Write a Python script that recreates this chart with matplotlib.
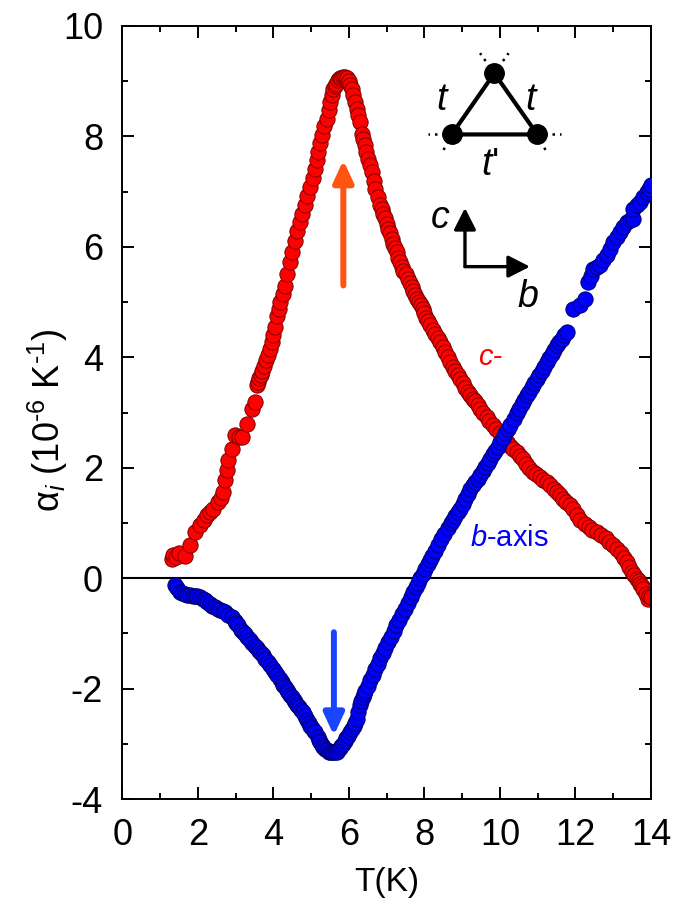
import matplotlib
matplotlib.use("Agg")
import matplotlib.pyplot as plt
from matplotlib.ticker import MultipleLocator

plt.rcParams.update({
    "font.family": ["Liberation Sans", "DejaVu Sans"],
    "mathtext.fontset": "custom",
    "mathtext.rm": "Liberation Sans",
    "mathtext.it": "Liberation Sans:italic",
    "mathtext.bf": "Liberation Sans:bold",
    "axes.unicode_minus": False,
})

# c-axis thermal expansion (red)
T_c = [1.30, 1.35, 1.42, 1.50, 1.66, 1.79, 1.92, 2.05, 2.15, 2.23, 2.32, 2.40,
       2.53, 2.60, 2.67, 2.72, 2.76, 2.80, 2.89, 2.98, 3.08, 3.16, 3.29, 3.42,
       3.50, 3.55, 3.58, 3.62, 3.66, 3.70, 3.75, 3.80, 3.85, 3.90, 3.95, 4.00,
       4.05, 4.10, 4.14, 4.18, 4.24, 4.30, 4.37, 4.44, 4.50, 4.57, 4.63, 4.70,
       4.76, 4.83, 4.90, 4.97, 5.04, 5.10, 5.14, 5.18, 5.23, 5.28, 5.35, 5.41,
       5.46, 5.51, 5.54, 5.58, 5.62, 5.66, 5.70, 5.75, 5.80, 5.85, 5.90, 5.95,
       5.99, 6.03, 6.07, 6.11, 6.15, 6.20, 6.25, 6.29, 6.34, 6.38, 6.42, 6.46,
       6.51, 6.55, 6.60, 6.65, 6.70, 6.76, 6.82, 6.87, 6.91, 6.95, 7.00, 7.04,
       7.09, 7.13, 7.17, 7.22, 7.26, 7.30, 7.35, 7.40, 7.44, 7.50, 7.57, 7.62,
       7.66, 7.70, 7.75, 7.80, 7.85, 7.90, 7.96, 8.00, 8.05, 8.10, 8.15, 8.22,
       8.28, 8.35, 8.41, 8.48, 8.55, 8.62, 8.68, 8.75, 8.82, 8.88, 8.95, 9.02,
       9.08, 9.15, 9.21, 9.28, 9.35, 9.42, 9.48, 9.56, 9.65, 9.72, 9.81, 9.90,
       10.00, 10.09, 10.18, 10.26, 10.35, 10.44, 10.53, 10.62, 10.70, 10.78,
       10.87, 10.96, 11.05, 11.15, 11.24, 11.33, 11.42, 11.50, 11.59, 11.68,
       11.76, 11.85, 11.94, 12.03, 12.12, 12.24, 12.35, 12.45, 12.56, 12.68,
       12.80, 12.90, 13.00, 13.10, 13.20, 13.28, 13.36, 13.43, 13.50, 13.56,
       13.62, 13.67, 13.72, 13.76, 13.80, 13.86, 13.92, 13.96, 14.00]
alpha_c = [0.35, 0.42, 0.38, 0.45, 0.41, 0.60, 0.83, 0.96, 1.05, 1.14, 1.20, 1.25,
           1.38, 1.45, 1.56, 1.78, 1.96, 2.14, 2.34, 2.59, 2.55, 2.55, 2.80, 3.07,
           3.19, 3.50, 3.56, 3.62, 3.68, 3.75, 3.85, 3.95, 4.05, 4.15, 4.28, 4.40,
           4.55, 4.75, 4.88, 5.00, 5.15, 5.30, 5.50, 5.72, 5.90, 6.10, 6.28, 6.45,
           6.60, 6.75, 6.92, 7.08, 7.25, 7.41, 7.58, 7.72, 7.88, 8.02, 8.18, 8.32,
           8.48, 8.62, 8.75, 8.86, 8.92, 8.95, 9.02, 9.05, 9.06, 9.07, 9.07, 9.05,
           9.00, 8.93, 8.85, 8.75, 8.62, 8.50, 8.38, 8.26, 8.05, 7.95, 7.84, 7.72,
           7.60, 7.48, 7.36, 7.20, 7.05, 6.90, 6.76, 6.68, 6.60, 6.52, 6.42, 6.33,
           6.25, 6.15, 6.05, 5.98, 5.90, 5.80, 5.72, 5.64, 5.56, 5.50, 5.42, 5.35,
           5.28, 5.20, 5.12, 5.06, 5.00, 4.94, 4.88, 4.80, 4.72, 4.65, 4.58, 4.50,
           4.43, 4.35, 4.28, 4.19, 4.10, 4.00, 3.91, 3.83, 3.75, 3.68, 3.61, 3.53,
           3.45, 3.38, 3.31, 3.25, 3.20, 3.13, 3.07, 3.00, 2.92, 2.85, 2.77, 2.70,
           2.62, 2.54, 2.46, 2.40, 2.33, 2.28, 2.22, 2.15, 2.07, 2.00,
           1.92, 1.88, 1.83, 1.78, 1.74, 1.68, 1.62, 1.56, 1.50, 1.44,
           1.38, 1.33, 1.25, 1.15, 1.05, 0.98, 0.92, 0.88, 0.83, 0.78,
           0.72, 0.66, 0.60, 0.53, 0.45, 0.37, 0.29, 0.20, 0.12, 0.05,
           -0.01, -0.05, -0.10, -0.15, -0.19, -0.28, -0.37, -0.33, -0.35]

# b-axis thermal expansion (blue)
T_b = [1.39, 1.45, 1.52, 1.58, 1.65, 1.72, 1.79, 1.86, 1.92, 1.98, 2.05, 2.12,
       2.18, 2.25, 2.32, 2.38, 2.45, 2.52, 2.58, 2.65, 2.72, 2.80, 2.89, 2.98,
       3.02, 3.06, 3.15, 3.20, 3.24, 3.30, 3.38, 3.44, 3.51, 3.56, 3.62, 3.67,
       3.72, 3.78, 3.85, 3.92, 3.99, 4.05, 4.10, 4.16, 4.22, 4.26, 4.30, 4.35,
       4.39, 4.44, 4.48, 4.53, 4.57, 4.62, 4.68, 4.73, 4.78, 4.83, 4.88, 4.93,
       4.97, 5.03, 5.07, 5.10, 5.17, 5.20, 5.23, 5.28, 5.32, 5.37, 5.41, 5.46,
       5.50, 5.54, 5.58, 5.62, 5.67, 5.71, 5.75, 5.80, 5.84, 5.89, 5.93, 5.98,
       6.03, 6.08, 6.12, 6.16, 6.20, 6.25, 6.29, 6.33, 6.36, 6.40, 6.43, 6.50,
       6.56, 6.63, 6.70, 6.77, 6.83, 6.90, 6.96, 7.03, 7.10, 7.18, 7.25, 7.33,
       7.40, 7.48, 7.55, 7.63, 7.70, 7.77, 7.83, 7.89, 7.95, 8.02, 8.08, 8.14,
       8.20, 8.28, 8.36, 8.44, 8.52, 8.61, 8.70, 8.76, 8.82, 8.88, 8.94, 9.01,
       9.08, 9.15, 9.21, 9.28, 9.35, 9.42, 9.48, 9.55, 9.61, 9.68, 9.74, 9.81,
       9.87, 9.94, 10.00, 10.07, 10.14, 10.20, 10.27, 10.36, 10.44, 10.50,
       10.57, 10.64, 10.71, 10.78, 10.84, 10.90, 10.97, 11.04, 11.10, 11.17,
       11.24, 11.30, 11.37, 11.44, 11.50, 11.57, 11.64, 11.70, 11.77, 11.94,
       12.12, 12.25, 12.33, 12.40, 12.47, 12.56, 12.65, 12.74, 12.83, 12.92,
       13.00, 13.09, 13.18, 13.27, 13.36, 13.44, 13.53, 13.53, 13.62, 13.71,
       13.80, 13.89, 13.95, 14.00]
alpha_b = [-0.13, -0.18, -0.25, -0.27, -0.29, -0.30, -0.31, -0.32, -0.32, -0.33, -0.34, -0.37,
           -0.40, -0.44, -0.47, -0.50, -0.52, -0.55, -0.58, -0.60, -0.62, -0.66, -0.71, -0.78,
           -0.82, -0.85, -0.93, -0.97, -1.01, -1.06, -1.12, -1.17, -1.22, -1.27, -1.32, -1.36,
           -1.40, -1.46, -1.52, -1.58, -1.64, -1.70, -1.76, -1.82, -1.88, -1.93, -1.98, -2.02,
           -2.07, -2.12, -2.16, -2.20, -2.25, -2.30, -2.34, -2.38, -2.43, -2.50, -2.56, -2.62,
           -2.67, -2.72, -2.76, -2.79, -2.88, -2.93, -2.97, -3.02, -3.05, -3.09, -3.12, -3.14,
           -3.14, -3.15, -3.14, -3.15, -3.15, -3.12, -3.08, -3.04, -3.00, -2.95, -2.90, -2.85,
           -2.79, -2.73, -2.67, -2.62, -2.55, -2.42, -2.30, -2.22, -2.15, -2.10, -2.05, -1.95,
           -1.85, -1.75, -1.65, -1.55, -1.45, -1.35, -1.26, -1.16, -1.06, -0.95, -0.85, -0.75,
           -0.65, -0.55, -0.45, -0.35, -0.25, -0.16, -0.08, 0.00, 0.08, 0.16, 0.25, 0.32,
           0.40, 0.50, 0.60, 0.70, 0.80, 0.90, 1.00, 1.06, 1.13, 1.20, 1.26, 1.35,
           1.44, 1.53, 1.62, 1.68, 1.74, 1.80, 1.86, 1.94, 2.01, 2.09, 2.16, 2.24,
           2.31, 2.38, 2.46, 2.54, 2.62, 2.70, 2.77, 2.88, 3.00, 3.07,
           3.15, 3.23, 3.31, 3.38, 3.46, 3.53, 3.61, 3.68, 3.76, 3.83,
           3.91, 3.98, 4.06, 4.14, 4.22, 4.28, 4.34, 4.40, 4.46, 4.88,
           4.95, 5.06, 5.36, 5.48, 5.60, 5.63, 5.67, 5.76, 5.85, 5.97,
           6.09, 6.18, 6.27, 6.36, 6.45, 6.48, 6.51, 6.69, 6.75, 6.81,
           6.90, 6.99, 7.05, 7.12]

# transition markers: (T, tail, head)
arrow_up = (5.85, 5.30, 7.57)
arrow_down = (5.60, -0.98, -2.85)

fig = plt.figure(figsize=(6.87, 9.09), dpi=100)
ax = fig.add_axes([0.1783, 0.121, 0.7693, 0.8504])

ax.axhline(0, color="black", lw=1.5, zorder=1)
ax.plot(T_c, alpha_c, "o", ms=11, mfc="#ff0000", mec="#7a0000", mew=0.7, zorder=2)
ax.plot(T_b, alpha_b, "o", ms=11, mfc="#0000ff", mec="#00006e", mew=0.7, zorder=3)

for (x, y0, y1), col in [(arrow_up, "#ff5511"), (arrow_down, "#1a45ff")]:
    ax.annotate("", xy=(x, y1), xytext=(x, y0),
                arrowprops=dict(arrowstyle="-|>,head_length=0.65,head_width=0.3",
                                mutation_scale=20, lw=4.3, color=col,
                                shrinkA=0, shrinkB=0), zorder=4)

ax.text(0.6954, 0.5722, "$c$-", color="#ff0000", fontsize=21,
        ha="center", va="center", transform=ax.transAxes)
ax.text(0.7313, 0.3376, "$b$-axis", color="#0000ff", fontsize=21,
        ha="center", va="center", transform=ax.transAxes)

# lattice schematic: triangle of sites with hoppings t, t'
tr = ax.transAxes
top, left, right = (0.7035, 0.9388), (0.6229, 0.8597), (0.7849, 0.8597)
ax.plot([left[0], top[0], right[0], left[0]], [left[1], top[1], right[1], left[1]],
        color="black", lw=3.0, transform=tr, zorder=5)
ax.plot([left[0], top[0], right[0]], [left[1], top[1], right[1]], "o", ms=14,
        color="black", transform=tr, zorder=6)
stubs = [(top, (-0.027, 0.026)), (top, (0.027, 0.026)),
         (left, (-0.045, 0.0)), (left, (-0.017, -0.022)),
         (right, (0.045, 0.0)), (right, (0.017, -0.022))]
for (vx, vy), (dx, dy) in stubs:
    ax.plot([vx, vx + dx], [vy, vy + dy], color="black", lw=1.8, ls=(0, (1, 2)),
            transform=tr, zorder=5)
ax.text(0.6064, 0.904, "$t$", fontsize=27, ha="center", va="center", transform=tr)
ax.text(0.7743, 0.904, "$t$", fontsize=27, ha="center", va="center", transform=tr)
ax.text(0.6953, 0.820, "$t$'", fontsize=27, ha="center", va="center", transform=tr)

# crystal axes
for tip in [(0.648, 0.7646), (0.771, 0.6887)]:
    ax.annotate("", xy=tip, xytext=(0.648, 0.6887), xycoords=tr,
                arrowprops=dict(arrowstyle="-|>,head_length=0.55,head_width=0.28",
                                mutation_scale=24, lw=2.4, color="black",
                                shrinkA=0, shrinkB=0))
ax.text(0.6007, 0.7516, "$c$", fontsize=27, ha="center", va="center", transform=tr)
ax.text(0.7678, 0.6498, "$b$", fontsize=27, ha="center", va="center", transform=tr)

ax.set_xlim(0, 14)
ax.set_ylim(-4, 10)
ax.xaxis.set_major_locator(MultipleLocator(2))
ax.xaxis.set_minor_locator(MultipleLocator(1))
ax.yaxis.set_major_locator(MultipleLocator(2))
ax.yaxis.set_minor_locator(MultipleLocator(1))
ax.tick_params(which="both", direction="in", top=True, right=True, width=1.4,
               labelsize=26, pad=14)
ax.tick_params(which="major", length=8.5)
ax.tick_params(which="minor", length=4.5)
for s in ax.spines.values():
    s.set_linewidth(1.4)

ax.set_xlabel("T(K)", fontsize=24, labelpad=10)
ax.set_ylabel(r"α$_{i}$ (10$^{\text{-6}}$ K$^{\text{-1}}$)", fontsize=26)
ax.yaxis.set_label_coords(-0.10, 0.49)

fig.savefig("out.png", dpi=100)
